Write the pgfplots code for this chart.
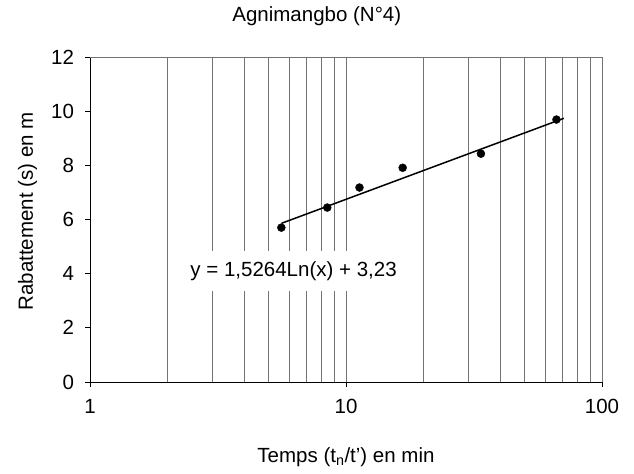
\documentclass[border=0pt]{standalone}
\usepackage{fontspec}
\setmainfont{Liberation Sans}
\usepackage{pgfplots}
\pgfplotsset{compat=1.18}
\begin{document}
\fontsize{20.5}{24}\selectfont
\begin{tikzpicture}
\begin{axis}[
  scale only axis=true,
  width=512pt, height=325pt,
  xmode=log,
  xmin=1, xmax=100,
  ymin=0, ymax=12,
  ytick={0,2,4,6,8,10,12},
  xtick={1,10,100},
  xticklabels={1,10,100},
  /pgf/number format/assume math mode=true,
  axis x line*=bottom,
  axis y line*=left,
  axis line style={black, line width=0.9pt},
  tick align=outside,
  major tick length=5pt,
  minor tick length=0pt,
  every tick/.style={black, line width=0.8pt},
  xmajorgrids=true, xminorgrids=true,
  major grid style={black!55, line width=0.9pt},
  minor grid style={black!55, line width=0.9pt},
  xticklabel style={yshift=-5pt},
  yticklabel style={xshift=-4pt},
  title={Agnimangbo (N°4)},
  title style={at={(0.443,1)}, anchor=base, yshift=29pt},
  xlabel={Temps (t\textsubscript{n}/t') en min},
  xlabel style={at={(0.5,0)}, anchor=base, yshift=-80pt},
  clip=false,
]
\draw[black!55, line width=0.9pt] (rel axis cs:0,1) -- (rel axis cs:1,1);
\addplot[black, line width=1.5pt] coordinates {
  (5.6,5.860) (7,6.200) (10,6.745) (15,7.364) (20,7.803)
  (30,8.422) (40,8.861) (55,9.347) (71,9.737)
};
\addplot[only marks, mark=*, mark size=4pt, black] coordinates {
  (5.59,5.70) (8.45,6.44) (11.29,7.18) (16.65,7.91) (33.66,8.43) (66.4,9.69)
};
\node[fill=white, inner xsep=9pt, inner ysep=10pt, anchor=center] at (axis cs:6.24,4.10) {y = 1,5264Ln(x) + 3,23};
\path (rel axis cs:0,0.525) ++(-57pt,0pt) node[rotate=90, anchor=base] {Rabattement (s) en m};
\path (rel axis cs:0,0) ++(-90pt,-91pt) rectangle ++(634pt,473pt);
\end{axis}
\end{tikzpicture}
\end{document}
